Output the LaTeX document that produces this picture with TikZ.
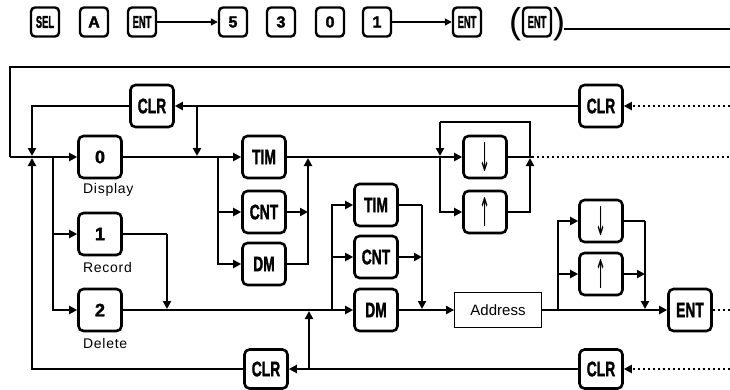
\documentclass[tikz,border=0pt]{standalone}
\usepackage{fontspec}
\usepackage{graphicx}
\setmainfont{Liberation Sans}
\newfontfamily\symfont{DejaVu Sans}
\newfontfamily\keyfont{Liberation Sans Bold}[FakeBold=2]
\newfontfamily\labfont{Liberation Sans}[LetterSpace=5]
\usetikzlibrary{arrows.meta}
\newcommand\KL[1]{{\keyfont\fontsize{21}{21}\selectfont\scalebox{0.66}[1]{#1}}}
\newcommand\KT[1]{{\keyfont\fontsize{17}{17}\selectfont\scalebox{0.55}[1]{#1}}}
\newcommand\KD[1]{{\keyfont\fontsize{18}{18}\selectfont #1}}
\newcommand\KS[1]{{\keyfont\fontsize{16}{16}\selectfont #1}}
\newcommand\KA[1]{{\symfont\fontsize{24}{24}\selectfont\scalebox{0.55}[1.65]{#1}}}
\tikzset{
  key/.style={draw, line width=2.6pt, rounded corners=5pt, minimum width=43pt, minimum height=42pt, inner sep=0pt},
  bkey/.style={key, minimum height=39pt},
  tkey/.style={draw, line width=2.4pt, rounded corners=4pt, minimum width=28pt, minimum height=29pt, inner sep=0pt},
  lab/.style={font=\labfont\fontsize{14}{15}\selectfont, anchor=west, inner sep=0pt},
  par/.style={font=\fontsize{36}{36}\selectfont, inner sep=0pt},
  conn/.style={line width=2pt},
  arr/.style={conn, -{Triangle[length=8pt,width=8pt]}},
  tarr/.style={line width=1.5pt, -{Triangle[length=7pt,width=7pt]}},
  dotl/.style={line width=2pt, dash pattern=on 2pt off 3pt},
  darr/.style={dotl, -{Triangle[length=8pt,width=8pt]}},
  addrbox/.style={draw, line width=0.8pt, minimum width=87pt, minimum height=35pt, font=\fontsize{15}{16}\selectfont}
}
\begin{document}
\begin{tikzpicture}[x=1pt,y=-1pt]
\useasboundingbox (0,0) rectangle (730,389);
% top row
\node[tkey] (sel) at (45,22) {\KT{SEL}};
\node[tkey] (ka) at (94,22) {\KS{A}};
\node[tkey] (ent1) at (142,22) {\KT{ENT}};
\node[tkey] (k5) at (233,22) {\KS{5}};
\node[tkey] (k3) at (281,22) {\KS{3}};
\node[tkey] (k0t) at (330,22) {\KS{0}};
\node[tkey] (k1t) at (377,22) {\KS{1}};
\node[tkey] (ent2) at (467,22) {\KT{ENT}};
\node[par] (lp) at (515,24) {(};
\node[tkey] (ent3) at (537,22) {\KT{ENT}};
\node[par] (rp) at (559,24) {)};
\coordinate (t0) at (564,29);
\coordinate (t1) at (730,29);
\draw[tarr] (ent1) -- (k5);
\draw[tarr] (k1t) -- (ent2);
\draw[conn] (t0) -- (t1);
% left keys
\node[key] (k0) at (100,157) {\KD{0}};
\node[key] (k1) at (100,234) {\KD{1}};
\node[key] (k2) at (100,310) {\KD{2}};
\node[lab] (l0) at (83,190) {Display};
\node[lab] (l1) at (83,267) {Record};
\node[lab] (l2) at (83,343) {Delete};
% CLR keys
\node[key] (clrA) at (152,106) {\KL{CLR}};
\node[key] (clrB) at (601,106) {\KL{CLR}};
\node[bkey] (clrC) at (266,369) {\KL{CLR}};
\node[bkey] (clrD) at (601,369) {\KL{CLR}};
% middle keys
\node[key] (tim1) at (264,157) {\KL{TIM}};
\node[key] (cnt1) at (264,212) {\KL{CNT}};
\node[key] (dm1) at (264,264) {\KL{DM}};
\node[key] (dn1) at (485,157) {\KA{↓}};
\node[key] (up1) at (485,212) {\KA{↑}};
\node[key] (tim2) at (376,205) {\KL{TIM}};
\node[key] (cnt2) at (376,257) {\KL{CNT}};
\node[key] (dm2) at (376,310) {\KL{DM}};
\node[addrbox] (addr) at (498,310) {Address};
\node[key] (dn2) at (601,221) {\KA{↓}};
\node[key] (up2) at (601,274) {\KA{↑}};
\node[key] (entB) at (690,310) {\KL{ENT}};
% coordinates
\coordinate (r67) at (730,67);
\coordinate (c67) at (10,67);
\coordinate (c157) at (10,157);
\coordinate (jLd) at (32,156);
\coordinate (jLu) at (32,158);
\coordinate (jM) at (53,157);
\coordinate (jC) at (197,156);
\coordinate (jCt) at (197,106);
\coordinate (jT) at (218,157);
\coordinate (jR1) at (308,158);
\coordinate (jR1c) at (308,212);
\coordinate (jU) at (530,158);
\coordinate (jUt) at (530,122);
\coordinate (jDt) at (440,122);
\coordinate (jD) at (440,156);
\coordinate (jDb) at (440,157);
\coordinate (jS) at (532,157);
\coordinate (r157) at (730,157);
\coordinate (r106) at (730,106);
\coordinate (jK1) at (167,234);
\coordinate (jK1b) at (167,309);
\coordinate (jB) at (332,310);
\coordinate (jX) at (422,205);
\coordinate (jXb) at (422,309);
\coordinate (jXc) at (422,257);
\coordinate (jY) at (558,310);
\coordinate (jZ) at (645,221);
\coordinate (jZb) at (645,309);
\coordinate (jZc) at (645,274);
\coordinate (r310) at (730,310);
\coordinate (jW) at (309,369);
\coordinate (jWt) at (309,311);
\coordinate (r369) at (730,369);
% connectors
\draw[conn] (r67) -- (c67) -- (c157);
\draw[arr] (c157) -- (k0);
\draw[arr] (jM) |- (k1.west);
\draw[arr] (jM) |- (k2.west);
\draw[conn] (clrB) -- (jCt);
\draw[arr] (jCt) -- (clrA);
\draw[arr] (jCt) -- (jC);
\draw[arr] (clrA) -| (jLd);
\draw[arr] (clrC) -| (jLu);
\draw[darr] (r106) -- (clrB);
\draw[arr] (k0) -- (tim1);
\draw[arr] (jT) |- (cnt1.west);
\draw[arr] (jT) |- (dm1.west);
\draw[arr] (dm1) -| (jR1);
\draw[arr] (cnt1) -- (jR1c);
\draw[arr] (tim1) -- (dn1);
\draw[arr] (up1) -| (jU);
\draw[conn] (jU) -- (jUt) -- (jDt);
\draw[arr] (jDt) -- (jD);
\draw[arr] (jDb) |- (up1.west);
\draw[conn] (dn1) -- (jS);
\draw[dotl] (jS) -- (r157);
\draw[conn] (k1) -- (jK1);
\draw[arr] (jK1) -- (jK1b);
\draw[arr] (k2) -- (dm2);
\draw[arr] (jB) |- (tim2.west);
\draw[arr] (jB) |- (cnt2.west);
\draw[conn] (tim2) -- (jX);
\draw[arr] (jX) -- (jXb);
\draw[arr] (cnt2) -- (jXc);
\draw[arr] (dm2) -- (addr);
\draw[arr] (addr) -- (entB);
\draw[arr] (jY) |- (dn2.west);
\draw[arr] (jY) |- (up2.west);
\draw[conn] (dn2) -- (jZ);
\draw[arr] (jZ) -- (jZb);
\draw[arr] (up2) -- (jZc);
\draw[dotl] (entB) -- (r310);
\draw[arr] (clrD) -- (clrC);
\draw[arr] (jW) -- (jWt);
\draw[darr] (r369) -- (clrD);
\end{tikzpicture}
\end{document}
